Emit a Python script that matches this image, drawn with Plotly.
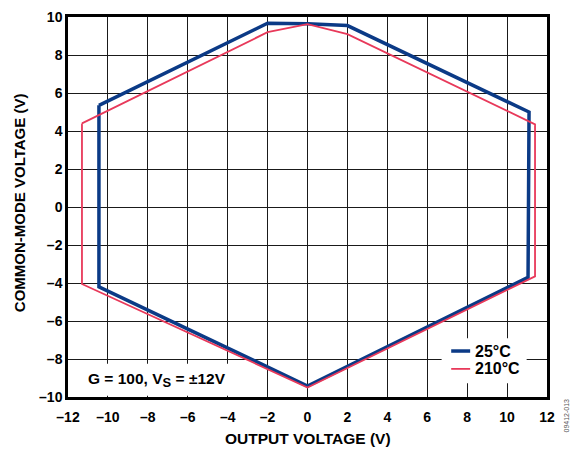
import plotly.graph_objects as go

# Input common-mode range vs output voltage, G = 100, VS = ±12 V
vout_25c = [-10.45, -2.0, 0.0, 2.0, 11.1, 11.05, 0.0, -10.45, -10.45]
vcm_25c = [5.35, 9.67, 9.64, 9.55, 5.0, -3.7, -9.42, -4.2, 5.35]

vout_210c = [-11.3, -2.0, 0.0, 2.0, 11.4, 11.4, 0.0, -11.3, -11.3]
vcm_210c = [4.4, 9.2, 9.62, 9.1, 4.35, -3.65, -9.5, -4.05, 4.4]

x_ticks = list(range(-12, 13, 2))
y_ticks = list(range(-10, 11, 2))
x_ticktext = [str(v).replace("-", "\u2013") for v in x_ticks]
y_ticktext = [str(v).replace("-", "\u2013") for v in y_ticks]

BLUE = "#0b3a86"
PINK = "#e8395a"
FONT = "Liberation Sans, Arial, sans-serif"

fig = go.Figure()
fig.add_trace(go.Scatter(x=vout_25c, y=vcm_25c, mode="lines",
                         line=dict(color=BLUE, width=3.5), name="25°C",
                         showlegend=False))
fig.add_trace(go.Scatter(x=vout_210c, y=vcm_210c, mode="lines",
                         line=dict(color=PINK, width=1.8), name="210°C",
                         showlegend=False))

axis_common = dict(showgrid=True, gridcolor="#1a1a1a", gridwidth=1.3,
                   zeroline=False, showline=True, linecolor="black",
                   linewidth=2.5, mirror=True, ticks="", automargin=False,
                   tickfont=dict(family=FONT, size=14, color="black",
                                 weight="bold"))

fig.update_xaxes(range=[-12, 12], tickvals=x_ticks, ticktext=x_ticktext,
                 ticklabelstandoff=5, **axis_common)
fig.update_yaxes(range=[-10, 10], tickvals=y_ticks, ticktext=y_ticktext,
                 **axis_common)

# Axis titles
fig.add_annotation(x=0.5, y=0, xref="paper", yref="paper",
                   text="<b>OUTPUT VOLTAGE (V)</b>", showarrow=False,
                   xanchor="center", yanchor="middle", yshift=-41,
                   font=dict(family=FONT, size=15.5, color="black"))
fig.add_annotation(x=0, y=0.51, xref="paper", yref="paper",
                   text="<b>COMMON-MODE VOLTAGE (V)</b>", showarrow=False,
                   textangle=-90, xanchor="center", yanchor="middle",
                   xshift=-49,
                   font=dict(family=FONT, size=15, color="black"))

# Legend panel (white box over the grid)
fig.add_shape(type="rect", xref="x", yref="y", x0=6.72, x1=10.98,
              y0=-9.28, y1=-6.91, fillcolor="white", line=dict(width=0),
              layer="above")
for label, color, width, yl in [("25°C", BLUE, 3.5, -7.58), ("210°C", PINK, 1.8, -8.52)]:
    fig.add_shape(type="line", xref="x", yref="y", x0=7.2, x1=8.15,
                  y0=yl, y1=yl, line=dict(color=color, width=width),
                  layer="above")
    fig.add_annotation(x=8.3, y=yl, xref="x", yref="y", text=f"<b>{label}</b>",
                       showarrow=False, xanchor="left", yanchor="middle",
                       font=dict(family=FONT, size=16, color="black"))

# Condition note with white background
fig.add_shape(type="rect", xref="x", yref="y", x0=-11.2, x1=-3.7,
              y0=-9.93, y1=-8.25, fillcolor="white", line=dict(width=0),
              layer="above")
fig.add_annotation(x=-7.55, y=-9.1, xref="x", yref="y",
                   text="<b>G = 100, V<sub><span style='font-size:13px'>S</span></sub> = ±12V</b>",
                   showarrow=False, xanchor="center", yanchor="middle",
                   font=dict(family=FONT, size=15.5, color="black"))

# Figure code
fig.add_annotation(x=1.0, y=0, xref="paper", yref="paper",
                   text="09412-013", textangle=-90, showarrow=False,
                   xanchor="left", yanchor="top", xshift=13,
                   font=dict(family=FONT, size=7, color="#555"))

fig.update_layout(width=574, height=451,
                  margin=dict(l=68, r=27, t=17, b=54),
                  plot_bgcolor="white", paper_bgcolor="white",
                  font=dict(family=FONT, color="black"))

fig.write_html("out.html")
